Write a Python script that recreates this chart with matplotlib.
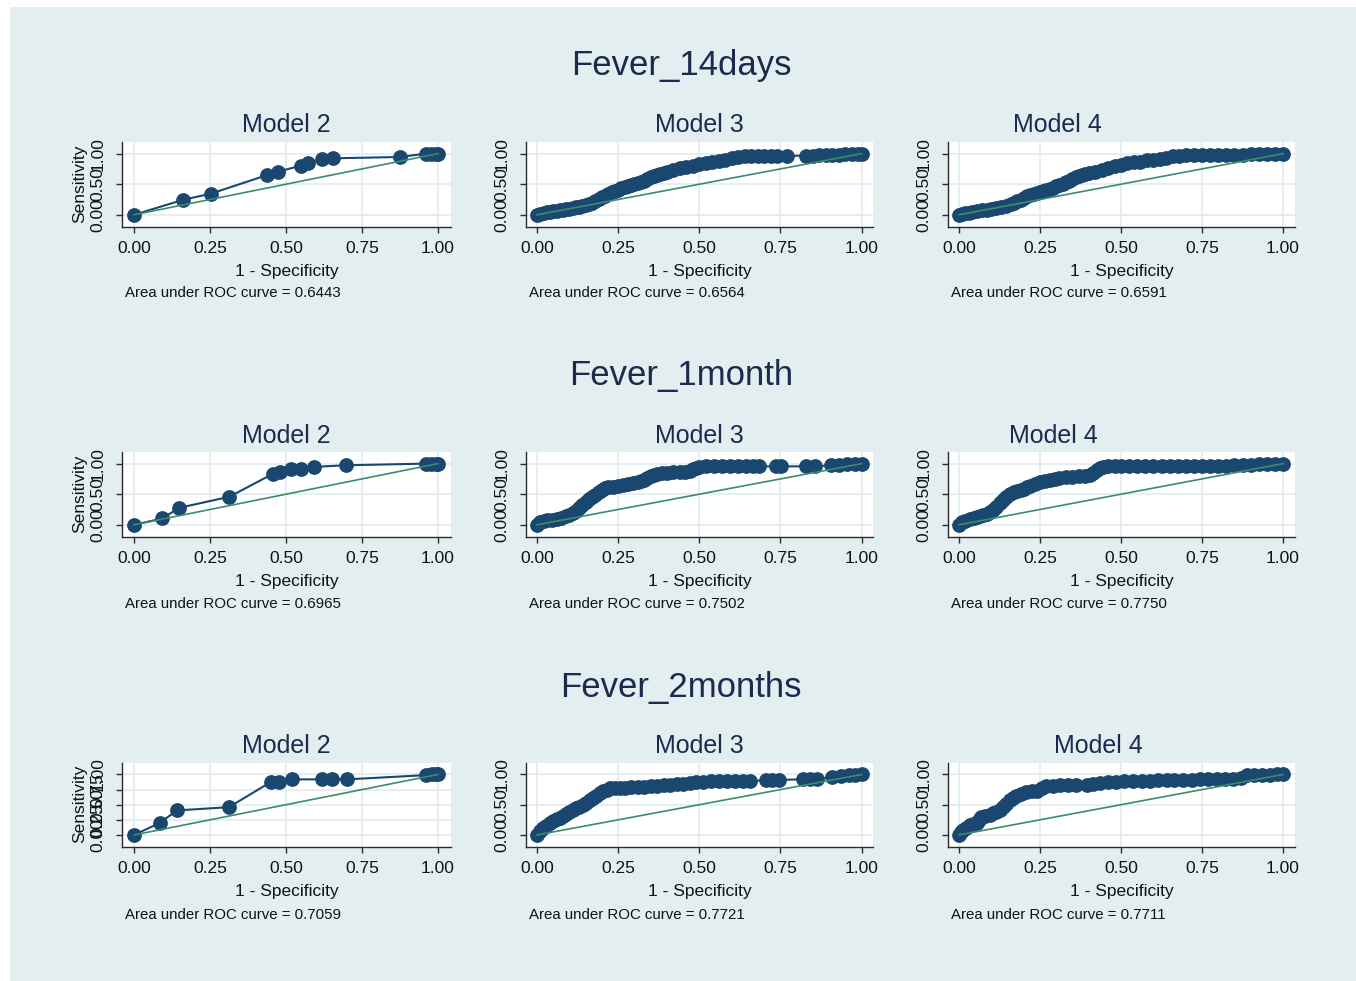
import matplotlib
matplotlib.use("Agg")
import matplotlib.pyplot as plt
from matplotlib.patches import Rectangle

# ---------------- data ----------------
group_titles = ["Fever_14days", "Fever_1month", "Fever_2months"]
model_titles = ["Model 2", "Model 3", "Model 4"]
auc_values = [["0.6443", "0.6564", "0.6591"],
              ["0.6965", "0.7502", "0.7750"],
              ["0.7059", "0.7721", "0.7711"]]
x_ticks = [0.0, 0.25, 0.5, 0.75, 1.0]
x_tick_labels = ["0.00", "0.25", "0.50", "0.75", "1.00"]

# Fever_14days
f14_m2_x = [0.0, 0.162, 0.252, 0.438, 0.474, 0.548, 0.573, 0.619, 0.653, 0.874, 0.962, 0.978, 0.995, 1.0]
f14_m2_y = [0.0, 0.246, 0.344, 0.650, 0.705, 0.803, 0.852, 0.907, 0.923, 0.945, 1.0, 1.0, 1.0, 1.0]

f14_m3_x = [0.0, 0.01, 0.02, 0.03, 0.04, 0.05, 0.06, 0.07, 0.08, 0.09, 0.10, 0.11, 0.12, 0.13, 0.14,
            0.15, 0.16, 0.17, 0.18, 0.19, 0.20, 0.21, 0.22, 0.23, 0.24, 0.25, 0.26, 0.27, 0.28, 0.29,
            0.30, 0.31, 0.32, 0.33, 0.34, 0.35, 0.36, 0.37, 0.38, 0.39, 0.40, 0.42, 0.44, 0.46, 0.48,
            0.50, 0.52, 0.54, 0.56, 0.58, 0.60, 0.62, 0.64, 0.66, 0.68, 0.70, 0.72, 0.74, 0.77,
            0.83, 0.85, 0.87, 0.89, 0.91, 0.93, 0.95, 0.97, 0.99, 1.0]
f14_m3_y = [0.0, 0.02, 0.03, 0.04, 0.05, 0.055, 0.06, 0.07, 0.08, 0.09, 0.10, 0.11, 0.12, 0.13, 0.14,
            0.155, 0.175, 0.20, 0.23, 0.26, 0.29, 0.31, 0.34, 0.37, 0.39, 0.41, 0.43, 0.45, 0.47, 0.49,
            0.50, 0.52, 0.54, 0.56, 0.59, 0.61, 0.63, 0.65, 0.67, 0.68, 0.70, 0.73, 0.76, 0.78, 0.80,
            0.825, 0.845, 0.865, 0.88, 0.895, 0.93, 0.945, 0.955, 0.96, 0.962, 0.963, 0.963, 0.963, 0.965,
            0.966, 0.967, 0.97, 0.975, 0.98, 0.985, 0.99, 0.995, 1.0, 1.0]

f14_m4_x = [0.0, 0.01, 0.02, 0.03, 0.04, 0.055, 0.07, 0.085, 0.10, 0.115, 0.13, 0.145, 0.16, 0.17,
            0.18, 0.19, 0.20, 0.21, 0.22, 0.23, 0.24, 0.25, 0.26, 0.27, 0.28, 0.29, 0.30, 0.31, 0.32,
            0.33, 0.34, 0.35, 0.36, 0.37, 0.38, 0.39, 0.40, 0.42, 0.44, 0.46, 0.48, 0.50, 0.52, 0.54,
            0.56, 0.58, 0.60, 0.62, 0.64, 0.66, 0.68, 0.70, 0.725, 0.75, 0.775, 0.80, 0.825, 0.85,
            0.875, 0.90, 0.925, 0.95, 0.975, 1.0]
f14_m4_y = [0.0, 0.015, 0.025, 0.035, 0.045, 0.055, 0.07, 0.085, 0.10, 0.115, 0.13, 0.15, 0.175, 0.195,
            0.22, 0.245, 0.27, 0.30, 0.32, 0.34, 0.355, 0.37, 0.39, 0.41, 0.425, 0.44, 0.465, 0.49, 0.51,
            0.535, 0.56, 0.585, 0.61, 0.63, 0.65, 0.665, 0.68, 0.70, 0.735, 0.765, 0.79, 0.82, 0.84, 0.855,
            0.87, 0.89, 0.90, 0.915, 0.93, 0.955, 0.965, 0.973, 0.973, 0.973, 0.974, 0.975, 0.977, 0.98,
            0.983, 0.986, 0.99, 0.995, 1.0, 1.0]

# Fever_1month
f1m_m2_x = [0.0, 0.093, 0.148, 0.313, 0.458, 0.480, 0.516, 0.548, 0.591, 0.697, 0.962, 0.978, 0.995, 1.0]
f1m_m2_y = [0.0, 0.103, 0.277, 0.457, 0.837, 0.864, 0.918, 0.918, 0.946, 0.973, 1.0, 1.0, 1.0, 1.0]

f1m_m3_x = [0.0, 0.01, 0.02, 0.03, 0.045, 0.06, 0.075, 0.09, 0.10, 0.11, 0.12, 0.13, 0.14, 0.15, 0.16,
            0.17, 0.18, 0.19, 0.20, 0.21, 0.22, 0.235, 0.25, 0.265, 0.28, 0.295, 0.31, 0.32, 0.33, 0.34,
            0.35, 0.36, 0.37, 0.385, 0.40, 0.42, 0.44, 0.455, 0.47, 0.48, 0.49, 0.50, 0.52, 0.545, 0.57,
            0.595, 0.62, 0.645, 0.665, 0.685, 0.735, 0.752, 0.83, 0.855, 0.905, 0.93, 0.955, 0.98, 1.0]
f1m_m3_y = [0.0, 0.04, 0.06, 0.07, 0.08, 0.09, 0.11, 0.14, 0.16, 0.185, 0.22, 0.28, 0.33, 0.38, 0.42,
            0.45, 0.49, 0.53, 0.57, 0.60, 0.61, 0.62, 0.63, 0.645, 0.66, 0.68, 0.70, 0.72, 0.74, 0.765,
            0.79, 0.81, 0.83, 0.845, 0.85, 0.855, 0.86, 0.87, 0.885, 0.91, 0.93, 0.95, 0.955, 0.955, 0.955,
            0.955, 0.955, 0.955, 0.955, 0.955, 0.955, 0.955, 0.955, 0.958, 0.97, 0.98, 0.99, 1.0, 1.0]

f1m_m4_x = [0.0, 0.01, 0.02, 0.033, 0.045, 0.055, 0.064, 0.075, 0.085, 0.095, 0.105, 0.115, 0.125, 0.136,
            0.146, 0.157, 0.17, 0.18, 0.19, 0.20, 0.21, 0.22, 0.235, 0.25, 0.265, 0.28, 0.295, 0.31,
            0.33, 0.35, 0.37, 0.39, 0.405, 0.415, 0.425, 0.435, 0.445, 0.46, 0.48, 0.50, 0.525, 0.55,
            0.575, 0.60, 0.625, 0.65, 0.675, 0.70, 0.725, 0.75, 0.775, 0.80, 0.825, 0.85, 0.875, 0.90,
            0.925, 0.95, 0.975, 1.0]
f1m_m4_y = [0.0, 0.04, 0.06, 0.087, 0.11, 0.125, 0.14, 0.16, 0.18, 0.207, 0.24, 0.29, 0.35, 0.41,
            0.46, 0.495, 0.53, 0.55, 0.565, 0.585, 0.61, 0.63, 0.665, 0.696, 0.72, 0.74, 0.755, 0.766,
            0.773, 0.78, 0.79, 0.80, 0.82, 0.85, 0.89, 0.93, 0.946, 0.956, 0.96, 0.963, 0.965, 0.967,
            0.967, 0.967, 0.967, 0.967, 0.967, 0.967, 0.967, 0.967, 0.967, 0.967, 0.968, 0.97, 0.975, 0.984,
            0.99, 0.995, 1.0, 1.0]

# Fever_2months
f2m_m2_x = [0.0, 0.085, 0.140, 0.312, 0.450, 0.476, 0.518, 0.620, 0.650, 0.701, 0.962, 0.980, 0.995, 1.0]
f2m_m2_y = [0.0, 0.20, 0.405, 0.459, 0.876, 0.876, 0.919, 0.919, 0.919, 0.919, 0.99, 1.0, 1.0, 1.0]

f2m_m3_x = [0.0, 0.01, 0.019, 0.029, 0.039, 0.05, 0.06, 0.07, 0.08, 0.09, 0.10, 0.11, 0.12, 0.13,
            0.142, 0.152, 0.163, 0.173, 0.183, 0.194, 0.204, 0.214, 0.224, 0.24, 0.255, 0.27, 0.29,
            0.31, 0.33, 0.35, 0.37, 0.39, 0.41, 0.43, 0.45, 0.47, 0.49, 0.51, 0.535, 0.56, 0.585, 0.61,
            0.635, 0.655, 0.705, 0.725, 0.745, 0.818, 0.84, 0.862, 0.91, 0.935, 0.96, 0.98, 1.0]
f2m_m3_y = [0.0, 0.06, 0.108, 0.15, 0.19, 0.225, 0.26, 0.285, 0.31, 0.345, 0.38, 0.41, 0.44, 0.47,
            0.50, 0.53, 0.57, 0.61, 0.65, 0.69, 0.73, 0.75, 0.77, 0.772, 0.773, 0.775, 0.785,
            0.795, 0.80, 0.81, 0.815, 0.82, 0.83, 0.84, 0.85, 0.86, 0.876, 0.88, 0.885, 0.89, 0.89, 0.89,
            0.89, 0.89, 0.905, 0.91, 0.91, 0.92, 0.92, 0.92, 0.965, 0.975, 0.985, 0.995, 1.0]

f2m_m4_x = [0.0, 0.006, 0.012, 0.022, 0.033, 0.044, 0.054, 0.062, 0.069, 0.08, 0.095, 0.105, 0.115,
            0.126, 0.136, 0.146, 0.157, 0.167, 0.177, 0.19, 0.208, 0.225, 0.24, 0.255, 0.27, 0.29,
            0.311, 0.335, 0.36, 0.394, 0.415, 0.435, 0.46, 0.485, 0.51, 0.538, 0.565, 0.59, 0.615,
            0.641, 0.665, 0.69, 0.72, 0.744, 0.77, 0.795, 0.82, 0.847, 0.87, 0.889, 0.91, 0.935, 0.96,
            0.98, 1.0]
f2m_m4_y = [0.0, 0.04, 0.08, 0.12, 0.16, 0.18, 0.19, 0.24, 0.30, 0.32, 0.335, 0.355, 0.378,
            0.41, 0.46, 0.51, 0.57, 0.61, 0.65, 0.685, 0.71, 0.72, 0.73, 0.77, 0.81, 0.815,
            0.82, 0.823, 0.825, 0.827, 0.845, 0.865, 0.87, 0.875, 0.885, 0.89, 0.895, 0.90, 0.905,
            0.908, 0.91, 0.912, 0.915, 0.92, 0.92, 0.92, 0.92, 0.92, 0.95, 0.984, 0.99, 0.993, 0.997,
            1.0, 1.0]

curves_x = [[f14_m2_x, f14_m3_x, f14_m4_x],
            [f1m_m2_x, f1m_m3_x, f1m_m4_x],
            [f2m_m2_x, f2m_m3_x, f2m_m4_x]]
curves_y = [[f14_m2_y, f14_m3_y, f14_m4_y],
            [f1m_m2_y, f1m_m3_y, f1m_m4_y],
            [f2m_m2_y, f2m_m3_y, f2m_m4_y]]

# ---------------- style / layout ----------------
plt.rcParams['font.family'] = ['Liberation Sans', 'DejaVu Sans']
W, H = 1356, 981
BG = '#E3EEF0'
GRID = '#E3EDF0'
NAVY = '#1A476F'
GREEN = '#3C8C6C'
TITLE = '#1C2A4E'

fig = plt.figure(figsize=(W / 100, H / 100), dpi=100, facecolor='white')
fig.patches.append(Rectangle((10 / W, 0), 1 - 10 / W, 1 - 7 / H, transform=fig.transFigure,
                             facecolor=BG, edgecolor='none', zorder=-10))

col_left = [122, 526, 948]
col_right = [451, 873, 1295]
row_top = [142, 452, 763]
row_bot = [227, 537, 847]
xlims = [(-0.04, 1.043), (-0.034, 1.035), (-0.034, 1.037)]
ylim = (-0.2, 1.19)

group_title_y = [65, 376, 688]
model_title_y = [125, 436, 746]
model_title_x = [[286, 699, 1057], [286, 699, 1053], [286, 699, 1098]]
auc_y = [293, 604, 915]


def fx(px):
    return px / W


def fy(py):
    return 1 - py / H


for r in range(3):
    fig.text(fx(681), fy(group_title_y[r]), group_titles[r], ha='center', va='center',
             fontsize=25, color=TITLE)
    for c in range(3):
        l, rr = col_left[c], col_right[c]
        t, b = row_top[r], row_bot[r]
        ax = fig.add_axes([fx(l), fy(b), (rr - l) / W, (b - t) / H])
        ax.set_facecolor('white')
        ax.set_xlim(*xlims[c])
        ax.set_ylim(*ylim)
        for s in ['top', 'right']:
            ax.spines[s].set_visible(False)
        for s in ['left', 'bottom']:
            ax.spines[s].set_color('#2b2b2b')
            ax.spines[s].set_linewidth(1.0)
        ax.set_xticks(x_ticks)
        ax.set_xticklabels(x_tick_labels)
        if r == 2 and c == 0:
            yt = [0.0, 0.25, 0.5, 0.75, 1.0]
        else:
            yt = [0.0, 0.5, 1.0]
        ax.set_yticks(yt)
        ax.set_yticklabels(["%.2f" % v for v in yt], rotation=90, va='center')
        ax.tick_params(axis='both', direction='out', length=4, width=1.0, color='#2b2b2b',
                       labelsize=12.5, labelcolor='#111111')
        ax.tick_params(axis='x', pad=6)
        ax.tick_params(axis='y', pad=8)
        ax.grid(True, color=GRID, linewidth=1.3, zorder=0)
        ax.set_axisbelow(True)

        ax.plot(curves_x[r][c], curves_y[r][c], color=NAVY, linewidth=1.5, marker='o',
                markersize=9.6, markerfacecolor=NAVY, markeredgecolor=NAVY, zorder=3,
                clip_on=False)
        ax.plot([0, 1], [0, 1], color=GREEN, linewidth=1.2, zorder=4)

        ax.set_xlabel("1 - Specificity", fontsize=12.5, color='#111111', labelpad=5.5)
        if c == 0:
            fig.text(fx(80), fy((t + b) / 2 - 1), "Sensitivity", rotation=90, ha='center',
                     va='center', fontsize=12.5, color='#111111')

        fig.text(fx(model_title_x[r][c]), fy(model_title_y[r]), model_titles[c], ha='center',
                 va='center', fontsize=18, color=TITLE)
        fig.text(fx(l + 3), fy(auc_y[r]), "Area under ROC curve = " + auc_values[r][c],
                 ha='left', va='center', fontsize=10.8, color='#111111')

fig.savefig("out.png", dpi=100, facecolor=fig.get_facecolor())
